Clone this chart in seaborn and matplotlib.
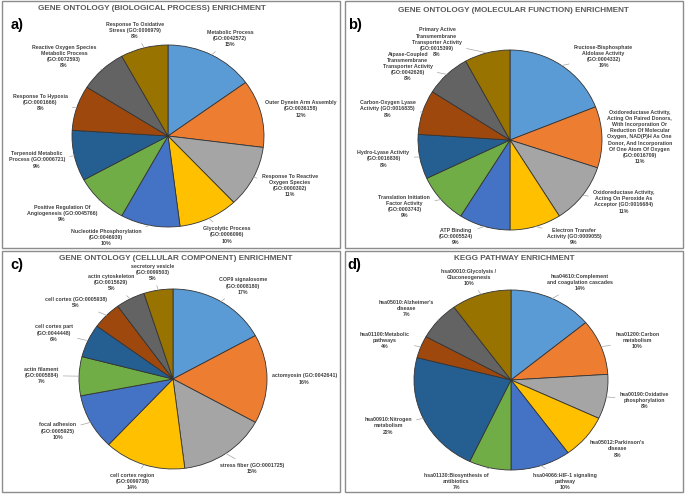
import numpy as np
import matplotlib
matplotlib.use('Agg')
import matplotlib.pyplot as plt
from matplotlib.patches import Rectangle
from matplotlib.text import Text
import seaborn as sns

# a) biological process
bp_labels = [
    'Metabolic Process\n(GO:0042572)',
    'Outer Dynein Arm Assembly\n(GO:0036158)',
    'Response To Reactive\nOxygen Species\n(GO:0000302)',
    'Glycolytic Process\n(GO:0006096)',
    'Nucleotide Phosphorylation\n(GO:0046939)',
    'Positive Regulation Of\nAngiogenesis (GO:0045766)',
    'Terpenoid Metabolic\nProcess (GO:0006721)',
    'Response To Hypoxia\n(GO:0001666)',
    'Reactive Oxygen Species\nMetabolic Process\n(GO:0072593)',
    'Response To Oxidative\nStress (GO:0006979)',
]
bp_values = [15, 12, 11, 10, 10, 9, 9, 8, 8, 8]

# b) molecular function
mf_labels = [
    'Fructose-Bisphosphate\nAldolase Activity\n(GO:0004332)',
    'Oxidoreductase Activity,\nActing On Paired Donors,\nWith Incorporation Or\nReduction Of Molecular\n'
    'Oxygen, NAD(P)H As One\nDonor, And Incorporation\nOf One Atom Of Oxygen\n(GO:0016709)',
    'Oxidoreductase Activity,\nActing On Peroxide As\nAcceptor (GO:0016684)',
    'Electron Transfer\nActivity (GO:0009055)',
    'ATP Binding\n(GO:0005524)',
    'Translation Initiation\nFactor Activity\n(GO:0003743)',
    'Hydro-Lyase Activity\n(GO:0016836)',
    'Carbon-Oxygen Lyase\nActivity (GO:0016835)',
    'Atpase-Coupled\nTransmembrane\nTransporter Activity\n(GO:0042626)',
    'Primary Active\nTransmembrane\nTransporter Activity\n(GO:0015399)',
]
mf_values = [19, 11, 11, 9, 9, 9, 8, 8, 8, 8]

# c) cellular component
cc_labels = [
    'COP9 signalosome\n(GO:0008180)',
    'actomyosin (GO:0042641)',
    'stress fiber (GO:0001725)',
    'cell cortex region\n(GO:0099738)',
    'focal adhesion\n(GO:0005925)',
    'actin filament\n(GO:0005884)',
    'cell cortex part\n(GO:0044448)',
    'cell cortex (GO:0005938)',
    'actin cytoskeleton\n(GO:0015629)',
    'secretory vesicle\n(GO:0099503)',
]
cc_values = [17, 16, 15, 14, 10, 7, 6, 5, 5, 5]

# d) KEGG
kegg_labels = [
    'hsa04610:Complement\nand coagulation cascades',
    'hsa01200:Carbon\nmetabolism',
    'hsa00190:Oxidative\nphosphorylation',
    "hsa05012:Parkinson's\ndisease",
    'hsa04066:HIF-1 signaling\npathway',
    'hsa01130:Biosynthesis of\nantibiotics',
    'hsa00910:Nitrogen\nmetabolism',
    'hsa01100:Metabolic\npathways',
    "hsa05010:Alzheimer's\ndisease",
    'hsa00010:Glycolysis /\nGluconeogenesis',
]
kegg_values = [14, 10, 8, 8, 10, 7, 22, 4, 7, 10]

office = sns.color_palette(['#5B9BD5', '#ED7D31', '#A5A5A5', '#FFC000', '#4472C4',
                            '#70AD47', '#255E91', '#9E480E', '#636363', '#997300'])

sns.set_theme(style='white')
plt.rcParams['font.family'] = ['Liberation Sans', 'DejaVu Sans']

W, H = 685, 494

panels = [
    dict(title='GENE ONTOLOGY (BIOLOGICAL PROCESS) ENRICHMENT', tag='a)',
         labels=bp_labels, values=bp_values, box=(2, 1, 340, 248),
         centre=(168, 136), radius=(96, 91), title_xy=(152, 9), tag_xy=(17, 25), spread=(1.4, 1.2)),
    dict(title='GENE ONTOLOGY (MOLECULAR FUNCTION) ENRICHMENT', tag='b)',
         labels=mf_labels, values=mf_values, box=(345, 1, 683, 248),
         centre=(510, 140), radius=(92, 90), title_xy=(513, 10), tag_xy=(355, 25), spread=(1.4, 1.12)),
    dict(title='GENE ONTOLOGY (CELLULAR COMPONENT) ENRICHMENT', tag='c)',
         labels=cc_labels, values=cc_values, box=(2, 251, 340, 492),
         centre=(173, 379), radius=(94, 90), title_xy=(176, 258), tag_xy=(17, 265), spread=(1.4, 1.2)),
    dict(title='KEGG PATHWAY ENRICHMENT', tag='d)',
         labels=kegg_labels, values=kegg_values, box=(345, 251, 683, 492),
         centre=(511, 380), radius=(97, 90), title_xy=(514, 259), tag_xy=(354, 265), spread=(1.4, 1.2)),
]


def nudge_labels(fig, ax, anns, mids, box, gap=5):
    # keep labels inside the panel and slide them sideways off the pie if they touch it
    fig.canvas.draw()
    r = fig.canvas.get_renderer()
    c = ax.transData.transform((0, 0))
    ab = ax.get_window_extent()
    rx, ry = ab.width / 2, ab.height / 2
    bx0, by0, bx1, by1 = box
    left, right = bx0 + 3, bx1 - 3
    bottom, top = H - by1 + 2, H - by0 - 12
    lim = 1 + gap / ((rx + ry) / 2)

    for ann, mid in zip(anns, mids):
        bb = Text.get_window_extent(ann, r)   # text only, no leader line
        w, h = bb.width, bb.height
        px, py = (bb.x0 + bb.x1) / 2, (bb.y0 + bb.y1) / 2

        def clearance(px, py):
            xs = np.linspace(px - w / 2, px + w / 2, 25) - c[0]
            ys = np.linspace(py - h / 2, py + h / 2, 25) - c[1]
            pts = np.concatenate([
                np.c_[xs, np.full(25, ys[0])], np.c_[xs, np.full(25, ys[-1])],
                np.c_[np.full(25, xs[0]), ys], np.c_[np.full(25, xs[-1]), ys]])
            return np.min(np.hypot(pts[:, 0] / rx, pts[:, 1] / ry))

        px = np.clip(px, left + w / 2, right - w / 2)
        py = np.clip(py, bottom + h / 2, top - h / 2)
        step = 1 if np.cos(mid) >= 0 else -1
        while clearance(px, py) < lim and left + w / 2 <= px + step <= right - w / 2:
            px += step
        ann.xyann = ((px - c[0]) / rx, (py - c[1]) / ry)


def draw_panel(fig, p):
    x0, y0, x1, y1 = p['box']
    fig.add_artist(Rectangle((x0 / W, 1 - y1 / H), (x1 - x0) / W, (y1 - y0) / H,
                             transform=fig.transFigure, fill=False, ec='#8c8c8c', lw=1))
    fig.text(p['title_xy'][0] / W, 1 - p['title_xy'][1] / H, p['title'], ha='center', va='center',
             fontsize=5.9, fontweight='bold', color='#595959')
    fig.text(p['tag_xy'][0] / W, 1 - p['tag_xy'][1] / H, p['tag'], ha='center', va='center',
             fontsize=10.5, fontweight='bold', color='black')

    cx, cy = p['centre']
    rx, ry = p['radius']
    ax = fig.add_axes([(cx - rx) / W, 1 - (cy + ry) / H, 2 * rx / W, 2 * ry / H])
    wedges, _ = ax.pie(p['values'], colors=office, startangle=90, counterclock=False,
                       wedgeprops=dict(edgecolor='#333333', linewidth=0.6))
    ax.set_aspect('auto')
    ax.set_xlim(-1, 1)
    ax.set_ylim(-1, 1)
    ax.axis('off')

    fx, fy = p['spread']
    anns, mids = [], []
    for w, lab, v in zip(wedges, p['labels'], p['values']):
        mid = np.deg2rad((w.theta1 + w.theta2) / 2)
        ex, ey = np.cos(mid), np.sin(mid)
        ann = ax.annotate(f'{lab}\n{v}%', xy=(ex, ey), xytext=(fx * ex, fy * ey),
                          ha='center', va='center', fontsize=3.8, fontweight='bold',
                          color='#404040', linespacing=1.3, annotation_clip=False,
                          arrowprops=dict(arrowstyle='-', color='#a6a6a6', lw=0.5,
                                          shrinkA=1, shrinkB=0))
        anns.append(ann)
        mids.append(mid)
    nudge_labels(fig, ax, anns, mids, p['box'])


fig = plt.figure(figsize=(W / 100, H / 100), dpi=100)
for p in panels:
    draw_panel(fig, p)

fig.savefig('out.png', dpi=100)
